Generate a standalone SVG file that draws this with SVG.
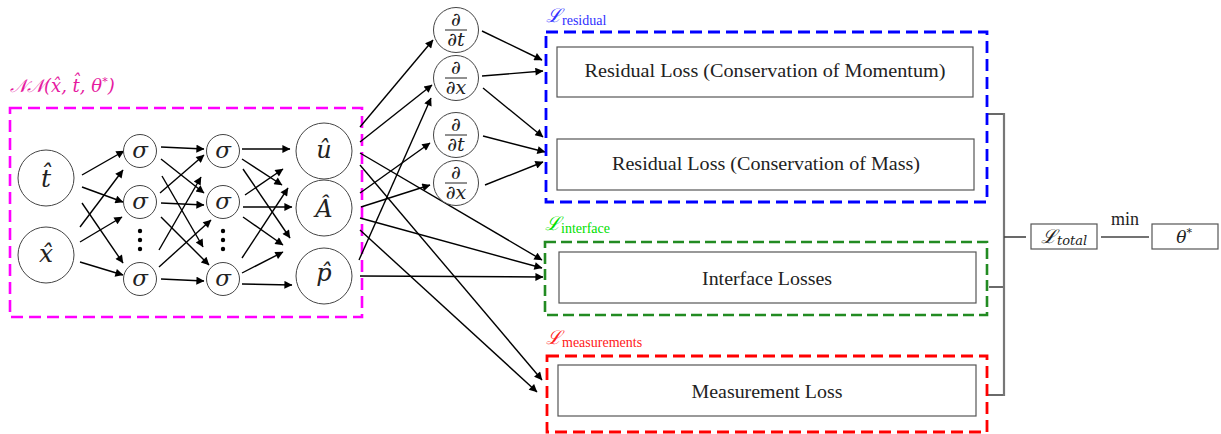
<svg xmlns="http://www.w3.org/2000/svg" width="1221" height="434" viewBox="0 0 1221 434">
<defs>
<marker id="ah" viewBox="0 0 10 10" refX="9.5" refY="5" markerWidth="11" markerHeight="8" markerUnits="userSpaceOnUse" orient="auto"><path d="M0,0 L10,5 L0,10 z" fill="#000"/></marker>
<style>
.a{stroke:#000;stroke-width:1.4;fill:none;marker-end:url(#ah)}
.c{fill:#fff;stroke:#444;stroke-width:1}
.t{font-family:"Liberation Serif","DejaVu Serif",serif;fill:#222}
.m{font-family:"DejaVu Serif","Liberation Serif",serif;font-style:italic;fill:#222}
.box{fill:#fff;stroke:#555;stroke-width:1.2}
.g{stroke:#444;stroke-width:1.6;fill:none}
.dot{fill:#000}
.d{font-family:"DejaVu Serif","Liberation Serif",serif;fill:#222;font-size:19px}
</style>
</defs>
<rect width="1221" height="434" fill="#fff"/>

<g id="nn-group">
<rect x="10" y="108" width="352" height="209" fill="none" stroke="#ff00ff" stroke-width="2.6" stroke-dasharray="12 6"/>
<text x="10" y="92" font-family="DejaVu Serif, serif" font-size="18" fill="#e619a0" font-style="italic">𝒩𝒩(x&#x302;, t&#x302;, θ<tspan font-size="11" dy="-7">*</tspan><tspan dy="7">)</tspan></text>
</g>

<g id="connectors">
<line class="a" x1="82" y1="175" x2="124" y2="151"/>
<line class="a" x1="82" y1="187" x2="123" y2="202"/>
<line class="a" x1="82" y1="203" x2="123" y2="263"/>
<line class="a" x1="80" y1="227" x2="123" y2="170"/>
<line class="a" x1="80" y1="242" x2="122" y2="217"/>
<line class="a" x1="80" y1="262" x2="123" y2="275"/>

<line class="a" x1="161" y1="147" x2="204" y2="149"/>
<line class="a" x1="161" y1="159" x2="204" y2="193"/>
<line class="a" x1="162" y1="176" x2="203" y2="247"/>
<line class="a" x1="160" y1="193" x2="204" y2="155"/>
<line class="a" x1="161" y1="203" x2="204" y2="205"/>
<line class="a" x1="161" y1="217" x2="209" y2="265"/>
<line class="a" x1="159" y1="250" x2="201" y2="177"/>
<line class="a" x1="159" y1="267" x2="211" y2="220"/>
<line class="a" x1="161" y1="279" x2="204" y2="281"/>

<line class="a" x1="242" y1="149" x2="290" y2="149"/>
<line class="a" x1="242" y1="159" x2="282" y2="185"/>
<line class="a" x1="243" y1="169" x2="290" y2="238"/>
<line class="a" x1="245" y1="195" x2="283" y2="169"/>
<line class="a" x1="243" y1="207" x2="292" y2="207"/>
<line class="a" x1="243" y1="217" x2="283" y2="245"/>
<line class="a" x1="242" y1="258" x2="288" y2="188"/>
<line class="a" x1="242" y1="273" x2="283" y2="252"/>
<line class="a" x1="242" y1="284" x2="292" y2="285"/>

<line class="a" x1="360" y1="127" x2="433" y2="40"/>
<line class="a" x1="360" y1="142" x2="432" y2="85"/>
<line class="a" x1="359" y1="260" x2="431" y2="98"/>
<line class="a" x1="360" y1="193" x2="430" y2="143"/>
<line class="a" x1="361" y1="207" x2="430" y2="185"/>

<line class="a" x1="360" y1="153" x2="542" y2="260"/>
<line class="a" x1="360" y1="165" x2="542" y2="380"/>
<line class="a" x1="360" y1="218" x2="542" y2="268"/>
<line class="a" x1="360" y1="230" x2="537" y2="392"/>
<line class="a" x1="360" y1="276" x2="543" y2="277"/>

<line class="a" x1="482" y1="31" x2="542" y2="60"/>
<line class="a" x1="482" y1="76" x2="543" y2="71"/>
<line class="a" x1="483" y1="88" x2="543" y2="137"/>
<line class="a" x1="483" y1="136" x2="545" y2="152"/>
<line class="a" x1="485" y1="185" x2="543" y2="162"/>

<line class="g" x1="987" y1="114" x2="1004" y2="114"/>
<line class="g" x1="989" y1="287" x2="1004" y2="287"/>
<line class="g" x1="987" y1="395" x2="1004" y2="395"/>
<line x1="1004" y1="113" x2="1004" y2="396" stroke="#777" stroke-width="2.2"/>
<line class="g" x1="1004" y1="237" x2="1026" y2="237"/>
<line class="g" x1="1101" y1="237" x2="1149" y2="237"/>
<text class="t" x="1125" y="225" font-size="18" text-anchor="middle">min</text>
</g>

<g id="input-t"><circle class="c" cx="46" cy="178" r="28"/><text class="m" x="46" y="187" font-size="25" text-anchor="middle">t&#x302;</text></g>
<g id="input-x"><circle class="c" cx="46" cy="255" r="28"/><text class="m" x="46" y="262" font-size="25" text-anchor="middle">x&#x302;</text></g>

<g id="h1-1"><circle class="c" cx="140" cy="151" r="16.5"/><text class="m" x="140" y="158" font-size="23" text-anchor="middle">σ</text></g>
<g id="h1-2"><circle class="c" cx="140" cy="202" r="16.5"/><text class="m" x="140" y="209" font-size="23" text-anchor="middle">σ</text></g>
<g id="h1-dots"><circle class="dot" cx="140" cy="231" r="2.2"/><circle class="dot" cx="140" cy="240" r="2.2"/><circle class="dot" cx="140" cy="249" r="2.2"/></g>
<g id="h1-3"><circle class="c" cx="140" cy="279" r="16.5"/><text class="m" x="140" y="286" font-size="23" text-anchor="middle">σ</text></g>

<g id="h2-1"><circle class="c" cx="223" cy="151" r="16.5"/><text class="m" x="223" y="158" font-size="23" text-anchor="middle">σ</text></g>
<g id="h2-2"><circle class="c" cx="223" cy="202" r="16.5"/><text class="m" x="223" y="209" font-size="23" text-anchor="middle">σ</text></g>
<g id="h2-dots"><circle class="dot" cx="223" cy="231" r="2.2"/><circle class="dot" cx="223" cy="240" r="2.2"/><circle class="dot" cx="223" cy="249" r="2.2"/></g>
<g id="h2-3"><circle class="c" cx="223" cy="279" r="16.5"/><text class="m" x="223" y="286" font-size="23" text-anchor="middle">σ</text></g>

<g id="out-u"><circle class="c" cx="324" cy="151" r="28"/><text class="m" x="324" y="158" font-size="24" text-anchor="middle">û</text></g>
<g id="out-A"><circle class="c" cx="324" cy="208" r="28"/><text class="m" x="324" y="217" font-size="24" text-anchor="middle">Â</text></g>
<g id="out-p"><circle class="c" cx="324" cy="276" r="28"/><text class="m" x="324" y="281" font-size="24" text-anchor="middle">p&#x302;</text></g>

<g id="d-t1"><circle class="c" cx="456" cy="30" r="22.5"/><text class="d" x="456" y="26" text-anchor="middle">∂</text><line x1="445" y1="30" x2="467" y2="30" stroke="#222" stroke-width="1"/><text class="d" x="456" y="46" text-anchor="middle">∂<tspan font-style="italic">t</tspan></text></g>
<g id="d-x1"><circle class="c" cx="456" cy="78" r="22.5"/><text class="d" x="456" y="74" text-anchor="middle">∂</text><line x1="445" y1="78" x2="467" y2="78" stroke="#222" stroke-width="1"/><text class="d" x="456" y="94" text-anchor="middle">∂<tspan font-style="italic">x</tspan></text></g>
<g id="d-t2"><circle class="c" cx="456" cy="135" r="22.5"/><text class="d" x="456" y="131" text-anchor="middle">∂</text><line x1="445" y1="135" x2="467" y2="135" stroke="#222" stroke-width="1"/><text class="d" x="456" y="151" text-anchor="middle">∂<tspan font-style="italic">t</tspan></text></g>
<g id="d-x2"><circle class="c" cx="456" cy="183" r="22.5"/><text class="d" x="456" y="179" text-anchor="middle">∂</text><line x1="445" y1="183" x2="467" y2="183" stroke="#222" stroke-width="1"/><text class="d" x="456" y="199" text-anchor="middle">∂<tspan font-style="italic">x</tspan></text></g>

<g id="residual-group">
<rect x="546" y="32" width="441" height="170" fill="none" stroke="#0000ff" stroke-width="2.8" stroke-dasharray="12 6"/>
<text x="546" y="22" font-family="DejaVu Serif, serif" font-size="19" fill="#3030ff" font-style="italic">ℒ<tspan font-style="normal" font-family="Liberation Serif, serif" font-size="14" dy="3">residual</tspan></text>
</g>
<g id="res-momentum"><rect class="box" x="557" y="47" width="416" height="50"/><text class="t" x="765" y="77" font-size="19" text-anchor="middle" textLength="361" lengthAdjust="spacingAndGlyphs">Residual Loss (Conservation of Momentum)</text></g>
<g id="res-mass"><rect class="box" x="557" y="139" width="417" height="51"/><text class="t" x="766" y="170" font-size="19" text-anchor="middle" textLength="308" lengthAdjust="spacingAndGlyphs">Residual Loss (Conservation of Mass)</text></g>

<g id="interface-group">
<rect x="545" y="242" width="442" height="73" fill="none" stroke="#228b22" stroke-width="2.6" stroke-dasharray="11 5"/>
<text x="545" y="230" font-family="DejaVu Serif, serif" font-size="19" fill="#00e000" font-style="italic">ℒ<tspan font-style="normal" font-family="Liberation Serif, serif" font-size="14" dy="3">interface</tspan></text>
</g>
<g id="interface-loss"><rect class="box" x="559" y="252" width="417" height="51"/><text class="t" x="767" y="285" font-size="19" text-anchor="middle" textLength="130" lengthAdjust="spacingAndGlyphs">Interface Losses</text></g>

<g id="measurement-group">
<rect x="547" y="356" width="440" height="76" fill="none" stroke="#ff0000" stroke-width="2.8" stroke-dasharray="12 6"/>
<text x="546" y="344" font-family="DejaVu Serif, serif" font-size="19" fill="#ff2020" font-style="italic">ℒ<tspan font-style="normal" font-family="Liberation Serif, serif" font-size="14" dy="3">measurements</tspan></text>
</g>
<g id="measurement-loss"><rect class="box" x="558" y="365" width="418" height="51"/><text class="t" x="767" y="398" font-size="19" text-anchor="middle" textLength="151" lengthAdjust="spacingAndGlyphs">Measurement Loss</text></g>

<g id="l-total"><rect class="box" x="1031" y="224" width="66" height="25"/><text class="m" x="1041" y="243" font-size="19">ℒ<tspan font-size="13" dy="2">total</tspan></text></g>
<g id="theta-star"><rect class="box" x="1152" y="224" width="66" height="25"/><text class="m" x="1184" y="243" font-size="17" text-anchor="middle">θ<tspan font-size="11" dy="-7" font-style="normal">*</tspan></text></g>
</svg>
